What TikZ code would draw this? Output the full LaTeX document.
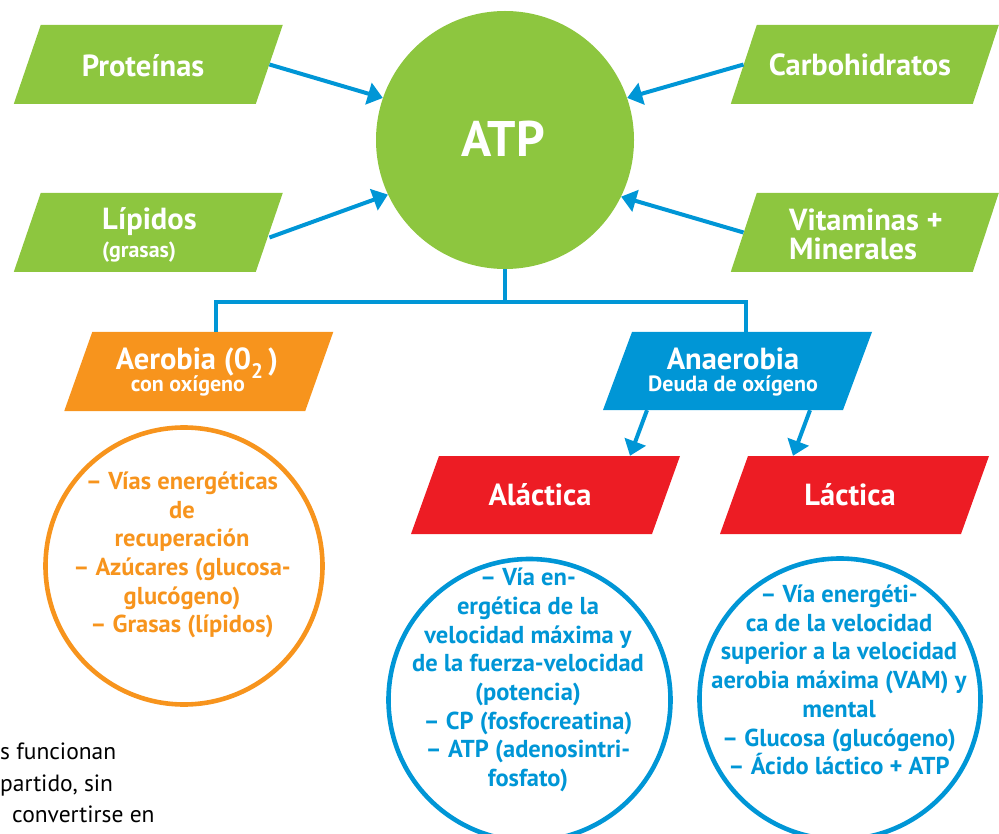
\documentclass[tikz,border=0pt]{standalone}
\usepackage{fontspec}
\setmainfont{PT Sans}
\usetikzlibrary{arrows.meta,calc}
\definecolor{vgreen}{HTML}{8DC63F}
\definecolor{vblue}{HTML}{0096D6}
\definecolor{vorange}{HTML}{F7941D}
\definecolor{vred}{HTML}{ED1C24}
% name, cx, cy, w, h, slant, colour
\newcommand\parashape[7]{%
  \fill[#7] ({#2-#4/2+#6},{#3-#5/2}) -- ({#2+#4/2+#6},{#3-#5/2}) -- ({#2+#4/2-#6},{#3+#5/2}) -- ({#2-#4/2-#6},{#3+#5/2}) -- cycle;
  \node[minimum width=#4pt, minimum height=#5pt, inner sep=0pt] (#1) at (#2,#3) {};
}
\newcommand\subfont{\fontsize{22}{21.5}\selectfont}
\newcommand\twofont{\fontsize{30.5}{22}\selectfont\bfseries\lineskiplimit=-40pt\relax}
\tikzset{
  lbl/.style={text=white, inner sep=0pt, font=\fontsize{30.5}{29}\selectfont\bfseries},
  twolbl/.style={text=white, inner sep=0pt, align=center, font=\twofont},
  circtxt/.style={inner sep=0pt, align=center, font=\fontsize{24.5}{28.7}\selectfont\bfseries},
  arr/.style={draw=vblue, line width=4pt, -{Triangle[length=15pt,width=22pt]}},
  tree/.style={draw=vblue, line width=3.4pt},
  ring/.style={circle, draw, line width=4.6pt, inner sep=0pt},
  pagetxt/.style={anchor=base west, inner sep=0pt, font=\fontsize{23.5}{25}\selectfont},
}
\begin{document}
\begin{tikzpicture}[x=1pt,y=-1pt]
\useasboundingbox (0,0) rectangle (999,834);
\clip (0,0) rectangle (999,834);
% ATP circle
\node[circle, fill=vgreen, minimum size=258pt, inner sep=0pt] (atp) at (505,140) {};
\node[lbl, anchor=base, font=\fontsize{50}{52}\selectfont\bfseries] (atpT) at (503,157) {ATP};
% green boxes
\parashape{prot}{148.25}{64.5}{242}{79}{13.5}{vgreen}
\parashape{lip}{148.25}{232.5}{242}{79}{13.5}{vgreen}
\parashape{carb}{864.75}{64.5}{242}{79}{13}{vgreen}
\parashape{vit}{864.75}{232.5}{242}{79}{13}{vgreen}
\node[lbl, anchor=base] (protT) at (143,77) {Proteínas};
\node[lbl, anchor=base] (carbT) at (860,76) {Carbohidratos};
\node[lbl, anchor=west, align=left] (lipT) at (102,235) {Lípidos\\[-1pt]{\subfont (grasas)}};
\node[lbl, anchor=west, align=left] (vitT) at (789,234) {Vitaminas +\\Minerales};
% arrows into ATP
\draw[arr] (prot.east) -- (atp.161);
\draw[arr] ($(lip.east)+(0,5)$) -- (atp.205);
\draw[arr] (carb.west) -- (atp.19);
\draw[arr] (vit.west) -- (atp.-26);
% second level
\parashape{aer}{198.75}{371.5}{241}{79}{14}{vorange}
\parashape{ana}{737.5}{371}{240}{78}{14.5}{vblue}
\node[twolbl] (aerT) at (197,372) {Aerobia (0\raisebox{-9pt}{\fontsize{21}{22}\selectfont 2}\,)\\{\subfont con oxígeno\hspace*{18pt}}};
\node[twolbl] (anaT) at (733,372) {Anaerobia\\{\subfont Deuda de oxígeno}};
\coordinate (j) at (505,302);
\draw[tree] (atp.south) -- (j);
\draw[tree] (j) -| ($(aer.north)+(17.25,0)$);
\draw[tree] (j) -| ($(ana.north)+(8.5,0)$);
% third level
\parashape{alac}{545.5}{495}{241}{78}{14}{vred}
\parashape{lact}{854.5}{495}{241}{78}{14}{vred}
\node[lbl, anchor=base] (alacT) at (540,505) {Aláctica};
\node[lbl, anchor=base] (lactT) at (850,505) {Láctica};
\draw[arr] ($(ana.south)+(-90.5,0)$) -- ($(alac.north)+(84.5,0)$);
\draw[arr] ($(ana.south)+(72.5,0)$) -- ($(lact.north)+(-61.5,0)$);
% circles
\node[ring, draw=vorange, minimum size=277pt] (aerC) at (184,566) {};
\node[circtxt, text=vorange] (aerCT) at (182,555) {– Vías energéticas\\de\\recuperación\\– Azúcares (glucosa-\\glucógeno)\\– Grasas (lípidos)};
\node[ring, draw=vblue, minimum size=282pt] (alacC) at (529.5,700) {};
\node[circtxt, text=vblue] (alacCT) at (528,680) {– Vía en-\\ergética de la\\velocidad máxima y\\de la fuerza-velocidad\\(potencia)\\– CP (fosfocreatina)\\– ATP (adenosintri-\\fosfato)};
\node[ring, draw=vblue, minimum size=281pt] (lactC) at (840,699) {};
\node[circtxt, text=vblue] (lactCT) at (839,680) {– Vía energéti-\\ca de la velocidad\\superior a la velocidad\\aerobia máxima (VAM) y\\mental\\– Glucosa (glucógeno)\\– Ácido láctico + ATP};
% cut-off page text
\node[pagetxt] (pg1) at (0,759) {s funcionan};
\node[pagetxt] (pg2) at (0,791) {partido, sin};
\node[pagetxt] (pg3) at (12,822) {convertirse en};
\end{tikzpicture}
\end{document}
